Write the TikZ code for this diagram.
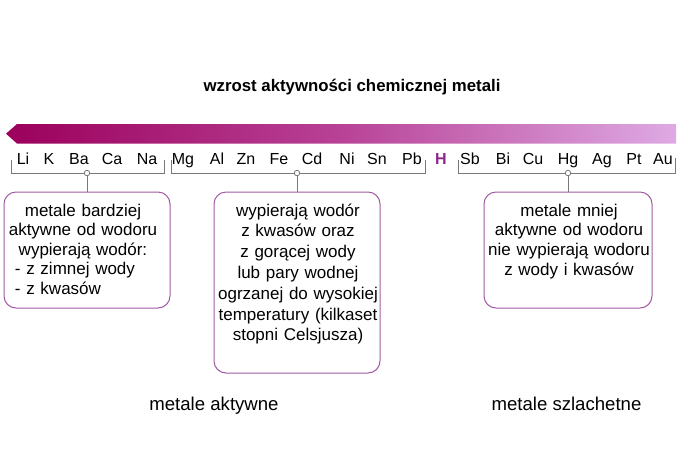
\documentclass[tikz,border=0pt]{standalone}
\usepackage{fontspec}
\setmainfont{Liberation Sans}
\definecolor{arrowL}{RGB}{155,0,92}
\definecolor{arrowM}{RGB}{184,66,150}
\definecolor{arrowR}{RGB}{222,170,228}
\definecolor{boxc}{RGB}{160,90,165}
\definecolor{hcol}{RGB}{140,40,140}
\definecolor{brc}{RGB}{120,120,120}
\tikzset{
  el/.style={font=\fontsize{16}{18}\selectfont, anchor=base, inner sep=0pt},
  br/.style={draw=brc, line width=0.8pt},
  knot/.style={circle, draw=brc, fill=white, inner sep=0pt, minimum size=5.5pt, line width=0.8pt},
  mbox/.style={draw=boxc, line width=1pt, rounded corners=12pt, inner sep=0pt},
  btext/.style={text width=170pt, align=center, anchor=base, inner sep=0pt},
  lbl/.style={font=\fontsize{18.6}{22}\selectfont, anchor=base, inner sep=0pt}
}
\begin{document}
\begin{tikzpicture}[x=1pt,y=-1pt]
\useasboundingbox (0,0) rectangle (680,451);
% title
\node[anchor=base, inner sep=0pt, font=\bfseries\fontsize{16.8}{20}\selectfont] (title) at (352,91) {wzrost aktywności chemicznej metali};
% arrow
\shade[left color=arrowL, right color=arrowR, middle color=arrowM]
  (6,133.7) -- (17,124) -- (676,124) -- (676,143.5) -- (17,143.5) -- cycle;
% elements
\foreach \s/\x in {Li/23,K/49,Ba/79,Ca/112,Na/147,Mg/183,Al/217,Zn/246,Fe/279,Cd/312,Ni/347,Sn/377,Pb/412,Sb/470,Bi/503,Cu/533,Hg/568,Ag/602,Pt/634,Au/663}
  \node[el] (el-\s) at (\x,164.3) {\s};
\node[el, font=\bfseries\fontsize{16}{18}\selectfont, text=hcol] (el-H) at (441,164.3) {H};
% brackets
\draw[br] (11,160) |- (164,173) -- (164,160);
\draw[br] (171,160) |- (425,173) -- (425,160);
\draw[br] (458,160) |- (675,173) -- (675,158);
% boxes
\node[mbox, minimum width=166pt, minimum height=116pt] (b1) at (87,250) {};
\node[mbox, minimum width=166pt, minimum height=181pt] (b2) at (297,282.5) {};
\node[mbox, minimum width=168pt, minimum height=116pt] (b3) at (568,250) {};
% knots and connectors
\node[knot] (c1) at (87,173) {};
\node[knot] (c2) at (297,173) {};
\node[knot] (c3) at (568,173) {};
\draw[br] (c1.south) -- (b1.north);
\draw[br] (c2.south) -- (b2.north);
\draw[br] (c3.south) -- (b3.north);
% box texts
\node[btext, font=\fontsize{17}{19.6}\selectfont] (t1) at (83,216) {metale bardziej\\aktywne od wodoru\\wypierają wodór:\\\makebox[136pt][l]{- z zimnej wody}\\\makebox[136pt][l]{- z kwasów}};
\node[btext, font=\fontsize{17}{20.8}\selectfont] (t2) at (298,216) {wypierają wodór\\z kwasów oraz\\z gorącej wody\\lub pary wodnej\\ogrzanej do wysokiej\\temperatury (kilkaset\\stopni Celsjusza)};
\node[btext, font=\fontsize{17}{19.7}\selectfont] (t3) at (569,216) {metale mniej\\aktywne od wodoru\\nie wypierają wodoru\\z wody i kwasów};
% bottom labels
\node[lbl] (la) at (214,410) {metale aktywne};
\node[lbl] (ls) at (566.5,410) {metale szlachetne};
\end{tikzpicture}
\end{document}
